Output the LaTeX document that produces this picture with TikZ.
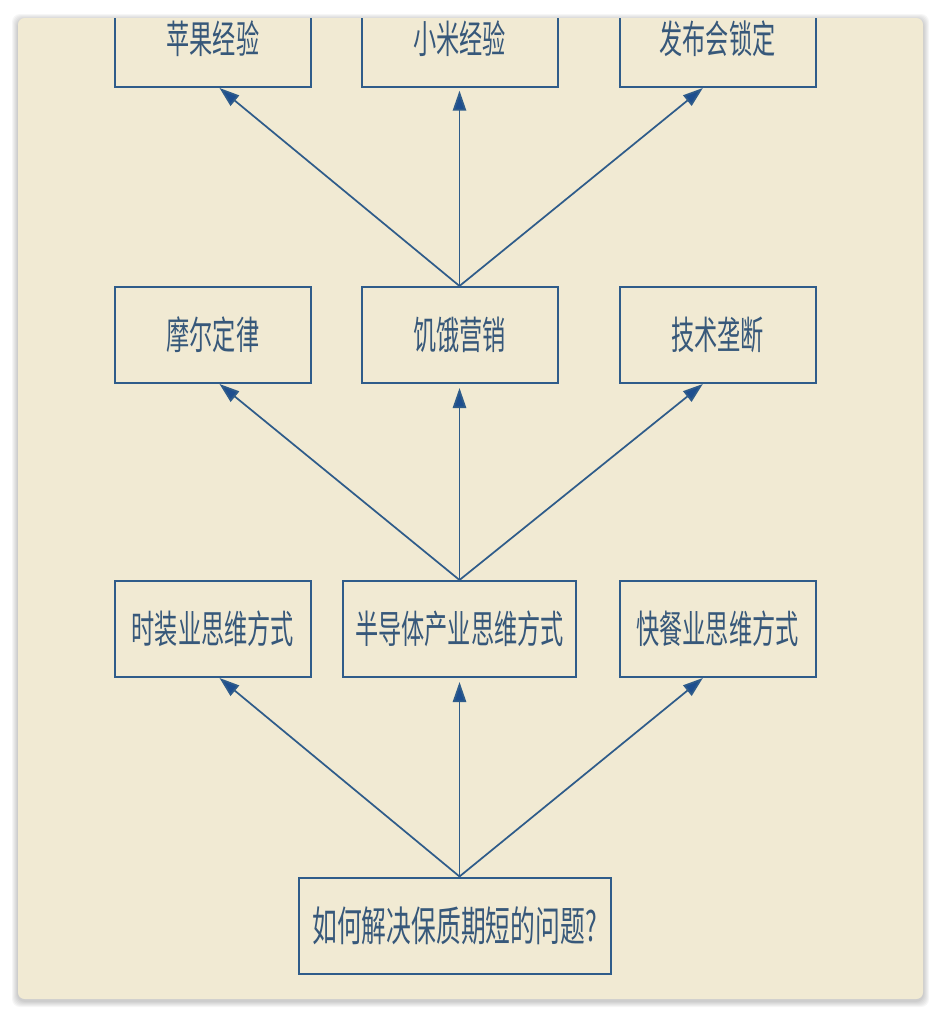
\documentclass[tikz,border=0pt]{standalone}
\usepackage{fontspec}
\newfontfamily\cjk[FakeStretch=0.6]{Noto Sans CJK SC}
\usetikzlibrary{positioning,arrows.meta}
\definecolor{paper}{HTML}{F1EAD3}
\definecolor{edgeblue}{HTML}{2F5C8A}
\definecolor{tipblue}{HTML}{1D4E8F}
\definecolor{inkblue}{HTML}{37587A}

\begin{document}
\begin{tikzpicture}[x=0.75pt, y=-0.75pt,
  box/.style={draw=edgeblue, line width=1.5pt, minimum width=147pt, minimum height=72pt,
    text=inkblue, font=\cjk\fontsize{29}{31}\selectfont},
  up/.style={edgeblue, line width=1.3pt, -{Triangle[length=15pt,width=10pt,fill=tipblue]}}]
  \useasboundingbox (0,0) rectangle (942,1017);
  \foreach \i in {1,...,6}
    \fill[black, opacity=0.035, rounded corners=6pt] (18-\i,18-\i+2) rectangle (923+\i,999+\i+2);
  \fill[paper, rounded corners=5pt] (18,18) rectangle (923,999);

  \begin{scope}
  \clip[rounded corners=5pt] (18,18) rectangle (923,999);
  \node[box, minimum width=234pt, font=\cjk\fontsize{31}{33}\selectfont] (q) at (454.5,925.5) {如何解决保质期短的问题?};
  \node[box, minimum width=175pt] (m3) at (459.5,629) {半导体产业思维方式};
  \node[box] (l3) [left of=m3, node distance=185pt] {时装业思维方式};
  \node[box] (r3) [right of=m3, node distance=193.5pt] {快餐业思维方式};

  \node[box] (m2) [above of=m3, node distance=220.5pt] {饥饿营销};
  \node[box] (l2) [left of=m2, node distance=185pt] {摩尔定律};
  \node[box] (r2) [right of=m2, node distance=193.5pt] {技术垄断};

  \node[box] (m1) [above of=m2, node distance=222pt] {小米经验};
  \node[box] (l1) [left of=m1, node distance=185pt] {苹果经验};
  \node[box] (r1) [right of=m1, node distance=193.5pt] {发布会锁定};
  \end{scope}

  \path[up] (m3 |- q.north) edge ([xshift=5pt]l3.south);
  \path[up] (m3 |- q.north) edge [shorten >=3pt] (m3.south);
  \path[up] (m3 |- q.north) edge ([xshift=-11pt]r3.south);

  \path[up] (m3.north) edge ([xshift=5pt]l2.south);
  \path[up] (m3.north) edge [shorten >=3pt] (m2.south);
  \path[up] (m3.north) edge ([xshift=-11pt]r2.south);

  \path[up] (m2.north) edge ([xshift=5pt]l1.south);
  \path[up] (m2.north) edge [shorten >=2pt] (m1.south);
  \path[up] (m2.north) edge ([xshift=-11pt]r1.south);
\end{tikzpicture}
\end{document}
